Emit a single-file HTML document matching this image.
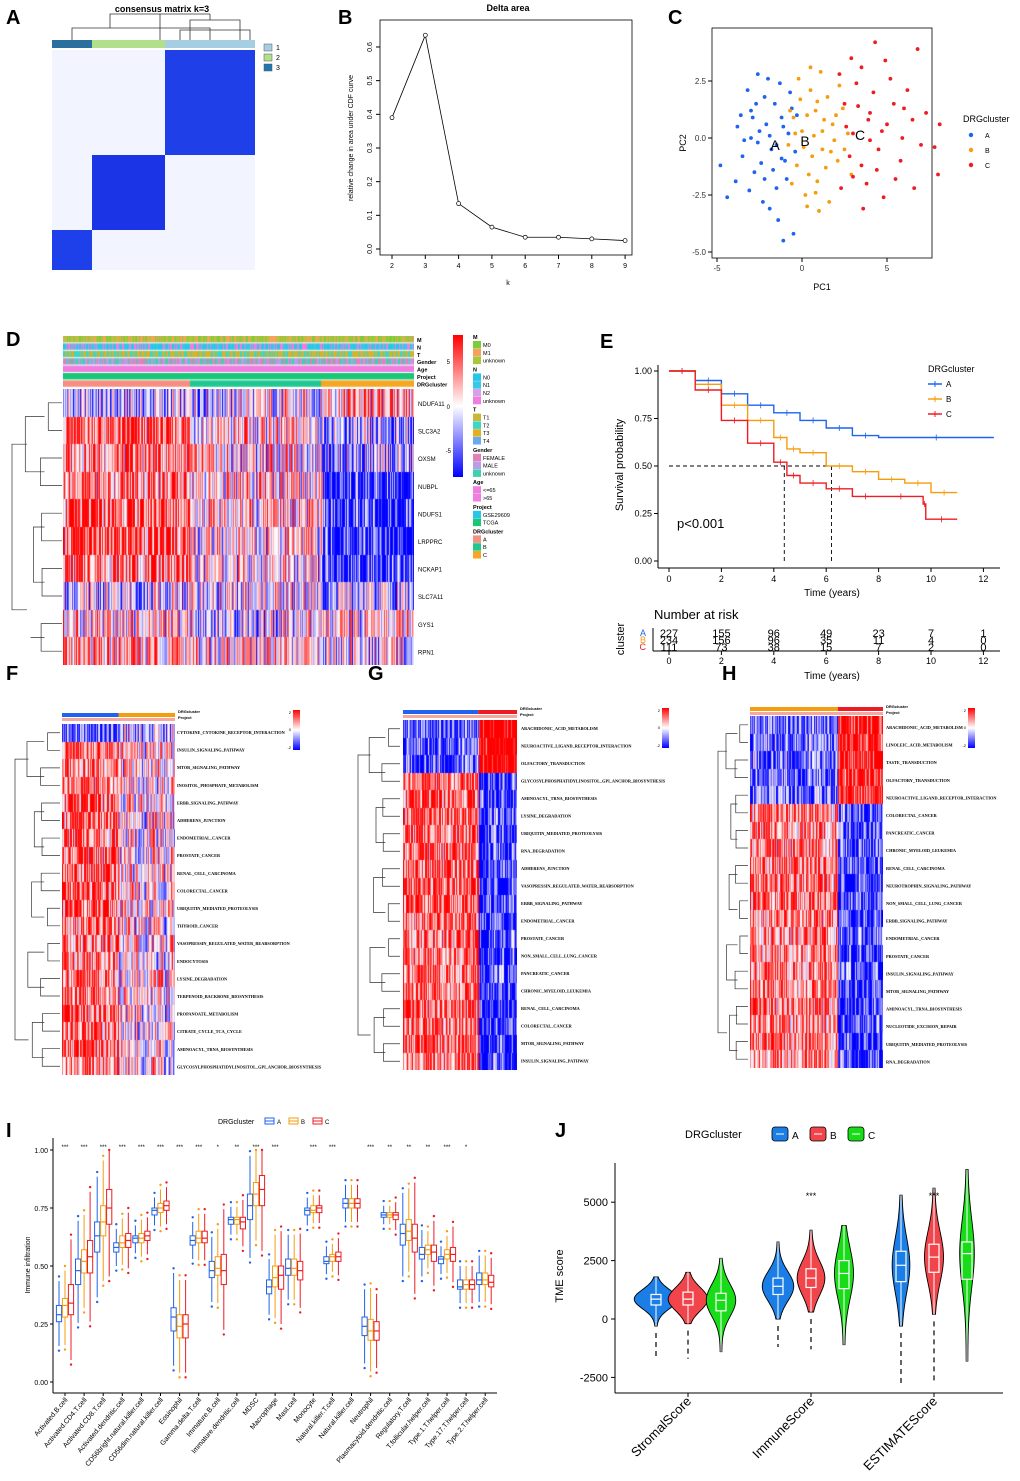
<!DOCTYPE html>
<html><head><meta charset="utf-8"><style>
body{margin:0;background:#fff;}
#wrap{position:relative;width:1020px;height:1481px;overflow:hidden;font-family:"Liberation Sans",sans-serif;}
canvas{position:absolute;}
svg{position:absolute;left:0;top:0;}
</style></head><body>
<div id="wrap">
<canvas id="hD" width="351" height="276" style="left:63px;top:389px"></canvas>
<canvas id="hF" width="113" height="351" style="left:62px;top:724px"></canvas>
<canvas id="hG" width="114" height="350" style="left:403px;top:720px"></canvas>
<canvas id="hH" width="133" height="352" style="left:750px;top:716px"></canvas>
<canvas id="aD" width="351" height="52" style="left:63px;top:336px"></canvas>
<svg id="s" width="1020" height="1481" xmlns="http://www.w3.org/2000/svg"></svg>
</div>
<script>
// ---- data ----
const deltaK=[2,3,4,5,6,7,8,9];
const deltaVals=[0.39,0.635,0.135,0.065,0.035,0.035,0.03,0.025];
const pcaA=[[-3,1.2],[-2.5,0.3],[-1.8,-0.5],[-2.2,1.8],[-3.5,-0.8],[-1.2,0.9],[-2.8,-1.5],[-1.5,-2.2],[-3.8,0.5],[-2,2.6],[-1,-1],[-2.6,-0.2],[-3.2,2.1],[-1.6,1.5],[-0.8,0.2],[-2.3,-2.8],[-1.4,-3.6],[-1.1,-4.5],[-0.5,-4.2],[-3.9,-1.9],[-4.4,-2.6],[-4.8,-1.2],[-2.9,0.9],[-1.9,0.1],[-0.6,1.3],[-1.3,2.4],[-2.4,-1.1],[-3.4,-0.1],[-0.9,-1.8],[-1.7,-1.4],[-2.1,0.6],[-2.7,1.5],[-0.4,-0.6],[-1.1,0.5],[-3.1,-2.3],[-1.5,-0.3],[-2.2,-1.8],[-0.7,2.0],[-3.6,1.0],[-1.9,-3.1],[-2.6,2.8],[-1.2,-0.9],[-3.0,0.0],[-0.3,1.0]];
const pcaB=[[0,0.3],[0.8,1.2],[1.2,-0.5],[-0.3,-1.2],[0.5,2.1],[1.8,0.6],[-0.5,0.9],[0.9,-1.9],[2.1,-1.0],[0.2,-2.5],[1.5,1.8],[-0.8,-0.3],[0.6,-0.8],[1.1,2.9],[2.4,1.3],[0.3,1.0],[1.6,-2.8],[-0.2,2.6],[0.7,0.1],[1.9,-0.1],[2.7,0.2],[0.4,-1.6],[1.3,0.8],[-0.6,-2.0],[1.0,-3.2],[2.2,2.3],[0.1,-0.4],[1.4,-1.3],[-0.1,1.7],[0.9,1.6],[2.9,-1.6],[0.5,3.1],[1.7,-0.6],[-0.4,0.2],[0.8,-2.4],[2.0,1.0],[1.2,0.3],[0.3,-3.0],[2.5,-0.5],[-0.7,1.2]];
const pcaC=[[3,0.2],[4,1.1],[3.5,-1.2],[5,0.6],[2.5,1.5],[4.5,-0.5],[6,1.3],[3.2,2.4],[5.5,-1.8],[7,-0.3],[2.8,-0.8],[4.2,2.0],[6.5,0.8],[3.8,-2.0],[5.2,2.6],[2.3,-2.2],[4.8,-2.6],[7.3,1.1],[8,-1.6],[6.8,3.9],[4.3,4.2],[3.5,3.1],[5.8,-1.0],[2.6,0.5],[4.0,-0.1],[3.3,1.4],[6.2,2.1],[4.7,0.3],[5.4,1.5],[3.6,-3.1],[7.8,-0.4],[2.2,2.8],[4.4,-1.4],[5.9,0.0],[3.0,-1.7],[6.6,-2.2],[4.9,3.4],[2.9,3.5],[8.1,0.6],[3.9,0.8]];
const kmTimeA=[0,1,2,3,4,5,6,7,8,12.4];
const kmSurvA=[1,0.95,0.88,0.82,0.78,0.74,0.70,0.66,0.65,0.65];
const kmTimeB=[0,1,2,3,4,4.5,5,6,7,8,9,10,11];
const kmSurvB=[1,0.93,0.82,0.74,0.65,0.59,0.57,0.50,0.47,0.43,0.41,0.36,0.36];
const kmTimeC=[0,1,2,3,4,4.5,5,6,7,8,9.7,9.8,11];
const kmSurvC=[1,0.90,0.74,0.62,0.52,0.45,0.41,0.38,0.34,0.34,0.30,0.22,0.22];
const riskTimes=[0,2,4,6,8,10,12];
const riskA=[227,155,96,49,23,7,1];
const riskB=[234,156,96,35,11,4,0];
const riskC=[111,73,38,15,7,2,0];
const cells=["Activated.B.cell","Activated.CD4.T.cell","Activated.CD8.T.cell","Activated.dendritic.cell","CD56bright.natural.killer.cell","CD56dim.natural.killer.cell","Eosinophil","Gamma.delta.T.cell","Immature.B.cell","Immature.dendritic.cell","MDSC","Macrophage","Mast.cell","Monocyte","Natural.killer.T.cell","Natural.killer.cell","Neutrophil","Plasmacytoid.dendritic.cell","Regulatory.T.cell","T.follicular.helper.cell","Type.1.T.helper.cell","Type.17.T.helper.cell","Type.2.T.helper.cell"];
const stars=["***","***","***","***","***","***","***","***","*","**","***","***","","***","***","","***","**","**","**","***","*",""];
const medA=[.29,.48,.63,.58,.62,.74,.28,.61,.48,.70,.76,.41,.49,.74,.52,.77,.24,.72,.64,.55,.53,.41,.44];
const medB=[.33,.52,.69,.60,.62,.75,.24,.62,.49,.70,.81,.45,.49,.74,.54,.77,.22,.72,.65,.57,.55,.42,.44];
const medC=[.34,.54,.75,.61,.63,.76,.25,.62,.48,.69,.83,.46,.48,.75,.54,.77,.22,.72,.62,.56,.55,.42,.43];
const q1A=[.26,.42,.56,.56,.60,.72,.22,.59,.45,.68,.70,.38,.46,.72,.51,.75,.20,.71,.59,.53,.51,.40,.42];
const q3A=[.33,.53,.69,.60,.63,.75,.32,.63,.52,.71,.81,.44,.53,.75,.54,.79,.28,.73,.68,.58,.54,.44,.47];
const q1B=[.28,.47,.63,.58,.60,.73,.19,.60,.46,.68,.76,.41,.46,.73,.52,.75,.18,.71,.61,.55,.53,.40,.42];
const q3B=[.36,.57,.76,.63,.64,.77,.29,.65,.54,.71,.86,.50,.53,.76,.55,.79,.27,.73,.70,.59,.57,.44,.47];
const q1C=[.29,.47,.68,.58,.61,.74,.19,.60,.42,.66,.76,.40,.44,.73,.52,.75,.18,.70,.56,.52,.52,.40,.41];
const q3C=[.42,.61,.83,.64,.65,.78,.29,.65,.55,.71,.89,.50,.52,.76,.56,.79,.26,.73,.68,.59,.58,.44,.46];
const tmeGroups=["StromalScore","ImmuneScore","ESTIMATEScore"];
const tmeMed=[[850,850,800],[1400,1750,1950],[2300,2650,2800]];
const tmeQ1=[[600,600,350],[1050,1350,1300],[1600,2000,1700]];
const tmeQ3=[[1050,1150,1100],[1750,2150,2500],[2900,3200,3300]];
const tmeMin=[[-300,-200,-1400],[0,300,-1100],[-300,200,-1800]];
const tmeMax=[[1800,2000,2600],[3300,3800,4000],[5300,5600,6400]];
const tmeLow=[[-1700,-1700,-1400],[-1200,-1300,-1100],[-2800,-2800,-1800]];
const tmeStars=["","***","***"];
const genesD=["NDUFA11","SLC3A2","OXSM","NUBPL","NDUFS1","LRPPRC","NCKAP1","SLC7A11","GYS1","RPN1"];
const meanD=[[-0.6,-0.2,0.6],[1.2,0.2,-1.0],[1.0,0.1,-0.8],[1.0,0.2,-1.8],[1.3,0.3,-1.8],[1.4,0.2,-1.8],[1.1,0.0,-1.8],[-0.4,-0.2,-0.6],[0.2,-0.3,0.0],[0.6,0.2,-0.2]];
const pathF=["CYTOKINE_CYTOKINE_RECEPTOR_INTERACTION","INSULIN_SIGNALING_PATHWAY","MTOR_SIGNALING_PATHWAY","INOSITOL_PHOSPHATE_METABOLISM","ERBB_SIGNALING_PATHWAY","ADHERENS_JUNCTION","ENDOMETRIAL_CANCER","PROSTATE_CANCER","RENAL_CELL_CARCINOMA","COLORECTAL_CANCER","UBIQUITIN_MEDIATED_PROTEOLYSIS","THYROID_CANCER","VASOPRESSIN_REGULATED_WATER_REABSORPTION","ENDOCYTOSIS","LYSINE_DEGRADATION","TERPENOID_BACKBONE_BIOSYNTHESIS","PROPANOATE_METABOLISM","CITRATE_CYCLE_TCA_CYCLE","AMINOACYL_TRNA_BIOSYNTHESIS","GLYCOSYLPHOSPHATIDYLINOSITOL_GPI_ANCHOR_BIOSYNTHESIS"];
const pathG=["ARACHIDONIC_ACID_METABOLISM","NEUROACTIVE_LIGAND_RECEPTOR_INTERACTION","OLFACTORY_TRANSDUCTION","GLYCOSYLPHOSPHATIDYLINOSITOL_GPI_ANCHOR_BIOSYNTHESIS","AMINOACYL_TRNA_BIOSYNTHESIS","LYSINE_DEGRADATION","UBIQUITIN_MEDIATED_PROTEOLYSIS","RNA_DEGRADATION","ADHERENS_JUNCTION","VASOPRESSIN_REGULATED_WATER_REABSORPTION","ERBB_SIGNALING_PATHWAY","ENDOMETRIAL_CANCER","PROSTATE_CANCER","NON_SMALL_CELL_LUNG_CANCER","PANCREATIC_CANCER","CHRONIC_MYELOID_LEUKEMIA","RENAL_CELL_CARCINOMA","COLORECTAL_CANCER","MTOR_SIGNALING_PATHWAY","INSULIN_SIGNALING_PATHWAY"];
const pathH=["ARACHIDONIC_ACID_METABOLISM","LINOLEIC_ACID_METABOLISM","TASTE_TRANSDUCTION","OLFACTORY_TRANSDUCTION","NEUROACTIVE_LIGAND_RECEPTOR_INTERACTION","COLORECTAL_CANCER","PANCREATIC_CANCER","CHRONIC_MYELOID_LEUKEMIA","RENAL_CELL_CARCINOMA","NEUROTROPHIN_SIGNALING_PATHWAY","NON_SMALL_CELL_LUNG_CANCER","ERBB_SIGNALING_PATHWAY","ENDOMETRIAL_CANCER","PROSTATE_CANCER","INSULIN_SIGNALING_PATHWAY","MTOR_SIGNALING_PATHWAY","AMINOACYL_TRNA_BIOSYNTHESIS","NUCLEOTIDE_EXCISION_REPAIR","UBIQUITIN_MEDIATED_PROTEOLYSIS","RNA_DEGRADATION"];

// ---- helpers ----
const S=document.getElementById('s');const NS='http://www.w3.org/2000/svg';
function el(tag,at,txt){const e=document.createElementNS(NS,tag);for(const k in at)e.setAttribute(k,at[k]);if(txt!==undefined)e.textContent=txt;S.appendChild(e);return e;}
function tx(x,y,t,sz,extra){const a=Object.assign({x:x,y:y,'font-size':sz,'font-family':'Liberation Sans, sans-serif',fill:'#000'},extra||{});const e=el('text',a,t);return e;}
function hs(i,j){let x=Math.sin(i*12.9898+j*78.233)*43758.5453;return x-Math.floor(x);}
function col(v){v=Math.max(-2,Math.min(2,v))/2;if(v>0)return [255,Math.round(255*(1-v)),Math.round(255*(1-v))];return [Math.round(255*(1+v)),Math.round(255*(1+v)),255];}
function heat(id,means,breaks,noise){const c=document.getElementById(id),g=c.getContext('2d');const W=c.width,H=c.height,n=means.length;const img=g.createImageData(W,H);
 for(let x=0;x<W;x++){let gi=0;for(let b=0;b<breaks.length;b++)if(x/W>=breaks[b])gi=b+1;const ce=(hs(x,999)-0.5)*1.2;
  for(let r=0;r<n;r++){const v=means[r][gi]+ce+(hs(x,r+1)-0.5)*noise;const cc=col(v);const y0=Math.round(r*H/n),y1=Math.round((r+1)*H/n);
   for(let y=y0;y<y1;y++){const p=(y*W+x)*4;img.data[p]=cc[0];img.data[p+1]=cc[1];img.data[p+2]=cc[2];img.data[p+3]=255;}}}
 g.putImageData(img,0,0);}
function label(x,y,t){const e=tx(x,y,t,20,{'font-weight':'bold'});}
function dendro(x0,x1,y0,y1,n){
 const step=(y1-y0)/n;let d='';for(let i=0;i<n;i+=2){const ya=y0+step*(i+0.5),yb=y0+step*(Math.min(i+1,n-1)+0.5);const xx=x1-(x1-x0)*(0.25+0.2*hs(i,7));d+=`M${x1},${ya}H${xx}V${yb}H${x1}`;}
 for(let i=0;i<n;i+=4){const ya=y0+step*(i+1),yb=y0+step*(Math.min(i+3,n-1));const xx=x1-(x1-x0)*(0.55+0.2*hs(i,9));d+=`M${x1-(x1-x0)*0.35},${ya}H${xx}V${yb}H${x1-(x1-x0)*0.35}`;}
 d+=`M${x1-(x1-x0)*0.7},${y0+step*2}H${x0}V${y1-step*2}H${x1-(x1-x0)*0.7}`;
 const p=el('path',{d:d,stroke:'#333','stroke-width':0.7,fill:'none'});return p;}
const defs=el('defs',{});

// ===== A =====
label(6,24,'A');
tx(162,12,'consensus matrix k=3',9,{'font-weight':'bold','text-anchor':'middle'});
el('path',{d:'M72,40V28H210V40M110,28V14H210M160,14V40M210,14V20H240V40M240,20H190V40M180,40V30H250V40',stroke:'#333','stroke-width':0.8,fill:'none'});
el('rect',{x:52,y:40,width:40,height:8,fill:'#2b6f9e'});el('rect',{x:92,y:40,width:73,height:8,fill:'#b2df8a'});el('rect',{x:165,y:40,width:90,height:8,fill:'#a6cee3'});
el('rect',{x:52,y:50,width:203,height:220,fill:'#f2f5ff'});
el('rect',{x:165,y:50,width:90,height:105,fill:'#1f3fe8',});
el('rect',{x:92,y:155,width:73,height:75,fill:'#1b35e6',});
el('rect',{x:52,y:230,width:40,height:40,fill:'#1e40ea',});
[['#a6cee3','1'],['#b2df8a','2'],['#1f78b4','3']].forEach((c,i)=>{el('rect',{x:264,y:44+i*10,width:8,height:7,fill:c[0],stroke:'#555','stroke-width':0.5});tx(276,50+i*10,c[1],7);});

// ===== B =====
label(338,24,'B');
tx(508,11,'Delta area',9,{'font-weight':'bold','text-anchor':'middle'});
el('rect',{x:380,y:20,width:252,height:235,fill:'none',stroke:'#000','stroke-width':0.8});
const bx=k=>392+(k-2)*33.3, by=v=>249-v*336.7;
[0,0.1,0.2,0.3,0.4,0.5,0.6].forEach(v=>{el('line',{x1:376,x2:380,y1:by(v),y2:by(v),stroke:'#000'});tx(372,by(v),String(v===0?'0.0':v),7,{transform:`rotate(-90 372 ${by(v)})`,'text-anchor':'middle'});});
deltaK.forEach(k=>{el('line',{x1:bx(k),x2:bx(k),y1:255,y2:259,stroke:'#000'});tx(bx(k),268,String(k),7,{'text-anchor':'middle'});});
tx(353,138,'relative change in area under CDF curve',7,{transform:'rotate(-90 353 138)','text-anchor':'middle'});
tx(508,285,'k',7,{'text-anchor':'middle'});
el('polyline',{points:deltaK.map((k,i)=>bx(k)+','+by(deltaVals[i])).join(' '),fill:'none',stroke:'#000','stroke-width':0.8,});
deltaK.forEach((k,i)=>{const c=el('circle',{cx:bx(k),cy:by(deltaVals[i]),r:2,fill:'#fff',stroke:'#000','stroke-width':0.7});});

// ===== C =====
label(668,24,'C');
el('rect',{x:712,y:28,width:220,height:230,fill:'none',stroke:'#000','stroke-width':0.8});
const cx=v=>802+v*17, cy=v=>138-v*22.8;
[-5,0,5].forEach(v=>{el('line',{x1:cx(v),x2:cx(v),y1:258,y2:262,stroke:'#000'});tx(cx(v),271,String(v),8,{'text-anchor':'middle',fill:'#333'});});
[2.5,0,-2.5,-5].forEach(v=>{el('line',{x1:708,x2:712,y1:cy(v),y2:cy(v),stroke:'#000'});tx(706,cy(v)+3,v.toFixed(1),8,{'text-anchor':'end',fill:'#333'});});
tx(822,290,'PC1',9,{'text-anchor':'middle'});tx(686,143,'PC2',9,{transform:'rotate(-90 686 143)','text-anchor':'middle'});
[[pcaA,'#1f63ef'],[pcaB,'#f59d0f'],[pcaC,'#ed1c24']].forEach(([arr,c],gi)=>arr.forEach(p=>{const d=el('circle',{cx:cx(p[0]),cy:cy(p[1]),r:1.9,fill:c});}));
tx(775,150,'A',14,{'text-anchor':'middle'});tx(805,146,'B',14,{'text-anchor':'middle'});tx(860,140,'C',14,{'text-anchor':'middle'});
tx(963,122,'DRGcluster',9);
[['A','#1f63ef'],['B','#f59d0f'],['C','#ed1c24']].forEach((c,i)=>{el('circle',{cx:971,cy:135+i*15,r:2.2,fill:c[1]});tx(985,138+i*15,c[0],7);});

// ===== D =====
label(6,346,'D');
heat('hD',meanD,[0.36,0.74],3.2);
(function(){const c=document.getElementById('aD'),g=c.getContext('2d');const rows=[['#7ccd3c','#f5a35c','#a8c83a'],['#27c6e8','#35c8e8','#f07ee0'],['#c8b83a','#3ad6c8','#e0b020'],['#e57fb5','#b89de8','#40d0b0'],['#f07ee0','#f07ee0','#f07ee0'],['#27c6e8','#18c878','#18c878'],['#f59080','#20c890','#f5a623']];
 rows.forEach((r,ri)=>{for(let x=0;x<351;x++){let ci;if(ri<4)ci=Math.floor(hs(x,ri+40)*3);else if(ri===4)ci=0;else if(ri===5)ci=(x<127?1:(x<258?1:1));else ci=(x<127?0:(x<258?1:2));g.fillStyle=r[ci];g.fillRect(x,ri*7.4,1,6.4);}});})();
['M','N','T','Gender','Age','Project','DRGcluster'].forEach((t,i)=>tx(417,342+i*7.4,t,5.5,{'font-weight':'bold'}));
genesD.forEach((t,i)=>tx(418,406+i*27.6,t,6));
dendro(12,62,389,665,10);
const gradD=el('linearGradient',{id:'gD',x1:0,y1:0,x2:0,y2:1});
[['0','#ff0000'],['0.5','#ffffff'],['1','#0000ff']].forEach(s=>{const st=document.createElementNS(NS,'stop');st.setAttribute('offset',s[0]);st.setAttribute('stop-color',s[1]);gradD.appendChild(st);});
el('rect',{x:453,y:335,width:10,height:142,fill:'url(#gD)'});
tx(450,364,'5',6,{'text-anchor':'end'});tx(450,409,'0',6,{'text-anchor':'end'});tx(451,453,'-5',6,{'text-anchor':'end'});
const legD=[['M',[['M0','#7ccd3c'],['M1','#f5a35c'],['unknown','#a8c83a']]],['N',[['N0','#27c6e8'],['N1','#35c8e8'],['N2','#d8a0e8'],['unknown','#f07ee0']]],['T',[['T1','#c8b83a'],['T2','#3ad6c8'],['T3','#e0b020'],['T4','#6aaaf0']]],['Gender',[['FEMALE','#e57fb5'],['MALE','#b89de8'],['unknown','#40d0b0']]],['Age',[['<=65','#f07ee0'],['>65','#f07ee0']]],['Project',[['GSE29609','#27c6e8'],['TCGA','#18c878']]],['DRGcluster',[['A','#f59080'],['B','#20c890'],['C','#f5a623']]]];
let ly=339;legD.forEach(([h,items])=>{tx(473,ly,h,5.5,{'font-weight':'bold'});ly+=2;items.forEach(it=>{el('rect',{x:473,y:ly,width:8,height:7.5,fill:it[1]});tx(483,ly+6,it[0],5.5);ly+=7.8;});ly+=7;});

// ===== E =====
label(600,348,'E');
const ex=t=>669+t*26.2, ey=s=>561-s*190;
el('line',{x1:658,x2:658,y1:365,y2:568,stroke:'#000'});el('line',{x1:658,x2:1000,y1:568,y2:568,stroke:'#000'});
[0,0.25,0.5,0.75,1].forEach(v=>{el('line',{x1:654,x2:658,y1:ey(v),y2:ey(v),stroke:'#000'});tx(652,ey(v)+3,v.toFixed(2),9,{'text-anchor':'end'});});
riskTimes.forEach(t=>{el('line',{x1:ex(t),x2:ex(t),y1:568,y2:572,stroke:'#000'});tx(ex(t),582,String(t),9,{'text-anchor':'middle'});});
tx(832,596,'Time  (years)',10,{'text-anchor':'middle'});
tx(623,465,'Survival probability',11,{transform:'rotate(-90 623 465)','text-anchor':'middle'});
el('path',{d:`M${ex(0)},${ey(0.5)}H${ex(6.2)}M${ex(4.4)},${ey(0.5)}V${ey(0)}M${ex(6.2)},${ey(0.5)}V${ey(0)}`,stroke:'#000','stroke-dasharray':'4,3','stroke-width':0.9,fill:'none'});
[[kmTimeA,kmSurvA,'#1f63ef','a'],[kmTimeB,kmSurvB,'#f59d0f','b'],[kmTimeC,kmSurvC,'#ed1c24','c']].forEach(([T,Sv,c,n])=>{let d=`M${ex(T[0])},${ey(Sv[0])}`;for(let i=1;i<T.length;i++){d+=`H${ex(T[i])}V${ey(Sv[i])}`;}
 const p=el('path',{d:d,stroke:c,'stroke-width':1.4,fill:'none'});
 let tk='';for(let i=1;i<T.length;i++){const tt=(T[i-1]+T[i])/2;tk+=`M${ex(tt)},${ey(Sv[i-1])-3}v6`;}el('path',{d:tk,stroke:c,'stroke-width':0.8});});
tx(677,528,'p<0.001',13);
tx(928,372,'DRGcluster',9);
[['A','#1f63ef'],['B','#f59d0f'],['C','#ed1c24']].forEach((c,i)=>{el('line',{x1:928,x2:942,y1:384+i*15,y2:384+i*15,stroke:c[1],'stroke-width':1.5});el('line',{x1:935,x2:935,y1:381+i*15,y2:387+i*15,stroke:c[1]});tx(946,387+i*15,c[0],8);});
tx(654,619,'Number at risk',13);
el('line',{x1:653,x2:1000,y1:651,y2:651,stroke:'#000'});el('line',{x1:653,x2:653,y1:628,y2:651,stroke:'#000'});
riskTimes.forEach(t=>{el('line',{x1:ex(t),x2:ex(t),y1:651,y2:655,stroke:'#000'});tx(ex(t),664,String(t),9,{'text-anchor':'middle'});});
tx(832,679,'Time  (years)',10,{'text-anchor':'middle'});
tx(624,639,'cluster',11,{transform:'rotate(-90 624 639)','text-anchor':'middle'});
[[riskA,'A','#1f63ef'],[riskB,'B','#f59d0f'],[riskC,'C','#ed1c24']].forEach(([arr,n,c],i)=>{tx(646,636+i*7,n,9,{fill:c,'text-anchor':'end'});arr.forEach((v,j)=>tx(ex(riskTimes[j]),637+i*7,String(v),11,{'text-anchor':'middle'}));});

// ===== F,G,H =====
function gradBox(x,y){el('rect',{x:x,y:y,width:7,height:40,fill:'url(#gD)'});tx(x-2,y+4,'2',4,{'text-anchor':'end'});tx(x-2,y+21,'0',4,{'text-anchor':'end'});tx(x-2,y+39,'-2',4,{'text-anchor':'end'});}
function ann(x,y,w,breaks,cols){breaks.forEach((b,i)=>{const x0=x+w*b,x1=x+w*(i+1<breaks.length?breaks[i+1]:1);el('rect',{x:x0,y:y,width:x1-x0,height:4,fill:cols[i]});});el('rect',{x:x,y:y+5,width:w,height:3,fill:'#f4a8a0'});}
label(6,680,'F');
const meanF=pathF.map((p,i)=>i===0?[-1.4,-0.6]:[1.2,0.1]);heat('hF',meanF,[0.5],3);
ann(62,713,113,[0,0.5],['#1f63ef','#f59d0f']);tx(178,713,'DRGcluster',4,{'font-weight':'bold'});tx(178,719,'Project',4,{'font-weight':'bold'});
pathF.forEach((t,i)=>tx(177,734+i*17.6,t,4.3,{'font-family':'Liberation Serif, serif','font-weight':'bold'}));
dendro(15,60,724,1075,20);gradBox(293,710);
label(368,680,'G');
const meanG=pathG.map((p,i)=>i<3?[-1.4,2.5]:[1.2,-1.6]);heat('hG',meanG,[0.66],2.6);
ann(403,710,114,[0,0.66],['#1f63ef','#ed1c24']);tx(520,710,'DRGcluster',4,{'font-weight':'bold'});tx(520,716,'Project',4,{'font-weight':'bold'});
pathG.forEach((t,i)=>tx(521,730+i*17.5,t,4.3,{'font-family':'Liberation Serif, serif','font-weight':'bold'}));
dendro(358,400,720,1070,20);gradBox(662,708);
label(722,680,'H');
const meanH=pathH.map((p,i)=>i<5?[-1.2,1.8]:[1.0,-1.6]);heat('hH',meanH,[0.66],2.6);
ann(750,707,133,[0,0.66],['#f59d0f','#ed1c24']);tx(886,708,'DRGcluster',4,{'font-weight':'bold'});tx(886,714,'Project',4,{'font-weight':'bold'});
pathH.forEach((t,i)=>tx(886,729+i*17.6,t,4.3,{'font-family':'Liberation Serif, serif','font-weight':'bold'}));
dendro(718,748,716,1068,20);gradBox(968,708);

// ===== I =====
label(6,1137,'I');
const iy=v=>1382-v*232, ix=i=>65+i*19.1;
el('line',{x1:53,x2:53,y1:1138,y2:1393,stroke:'#000'});el('line',{x1:53,x2:497,y1:1393,y2:1393,stroke:'#000'});
[0,0.25,0.5,0.75,1].forEach(v=>{el('line',{x1:50,x2:53,y1:iy(v),y2:iy(v),stroke:'#000'});tx(48,iy(v)+3,v.toFixed(2),7,{'text-anchor':'end'});});
tx(30,1265,'Immune infiltration',7,{transform:'rotate(-90 30 1265)','text-anchor':'middle'});
tx(218,1124,'DRGcluster',7);
[['A','#1f63ef'],['B','#f59d0f'],['C','#ed1c24']].forEach((c,i)=>{const x=265+i*24;el('rect',{x:x,y:1118,width:9,height:6,fill:'none',stroke:c[1]});el('line',{x1:x,x2:x+9,y1:1121,y2:1121,stroke:c[1]});tx(x+12,1124,c[0],6);});
cells.forEach((c,i)=>{const x=ix(i);
 [[medA,q1A,q3A,'#1f63ef',-6],[medB,q1B,q3B,'#f59d0f',0],[medC,q1C,q3C,'#ed1c24',6]].forEach(([m,a,b,clr,off],k)=>{const xx=x+off,iq=b[i]-a[i];const lo=Math.max(0.02,a[i]-1.5*iq),hi=Math.min(1,b[i]+1.5*iq);
  el('line',{x1:xx,x2:xx,y1:iy(hi),y2:iy(lo),stroke:clr,'stroke-width':1});
  const r=el('rect',{x:xx-2.6,y:iy(b[i]),width:5.2,height:iy(a[i])-iy(b[i]),fill:'#fff',stroke:clr,'stroke-width':1});
  el('line',{x1:xx-2.6,x2:xx+2.6,y1:iy(m[i]),y2:iy(m[i]),stroke:clr,'stroke-width':1.2});
  [lo-0.02,hi+0.02].forEach(o=>el('circle',{cx:xx,cy:iy(Math.max(0,Math.min(1,o))),r:1.2,fill:clr}));});
 tx(x,1149,stars[i],6,{'text-anchor':'middle'});
 el('line',{x1:x,x2:x,y1:1393,y2:1396,stroke:'#000'});
 tx(x+3,1400,c,7,{transform:`rotate(-50 ${x+3} 1400)`,'text-anchor':'end'});});

// ===== J =====
label(555,1137,'J');
const jy=v=>1319-v*0.02336;
el('line',{x1:615,x2:615,y1:1163,y2:1393,stroke:'#000'});el('line',{x1:615,x2:1003,y1:1393,y2:1393,stroke:'#000'});
[5000,2500,0,-2500].forEach(v=>{el('line',{x1:611,x2:615,y1:jy(v),y2:jy(v),stroke:'#000'});tx(608,jy(v)+4,String(v),11,{'text-anchor':'end'});});
tx(563,1276,'TME score',11,{transform:'rotate(-90 563 1276)','text-anchor':'middle'});
tx(685,1138,'DRGcluster',11);
const jc=['#1b7de6','#f1454b','#18dc18'];
['A','B','C'].forEach((n,i)=>{const x=772+i*38;el('rect',{x:x,y:1127,width:16,height:14,rx:3,fill:jc[i],stroke:'#000','stroke-width':0.8});el('line',{x1:x+4,x2:x+12,y1:1134,y2:1134,stroke:'#fff'});tx(x+20,1139,n,10);});
const jx=[[656,688,721],[778,811,844],[901,934,967]];
tmeGroups.forEach((g,gi)=>{const cxg=jx[gi][1];
 for(let k=0;k<3;k++){const x=jx[gi][k],med=tmeMed[gi][k],q1=tmeQ1[gi][k],q3=tmeQ3[gi][k],mn=tmeMin[gi][k],mx=tmeMax[gi][k];const sd=(q3-q1)/1.1;const wmax=Math.min(21,9500/sd);
  let L=[],R=[];const N=50;for(let s=0;s<=N;s++){const v=mx-(mx-mn)*s/N;const w=wmax*Math.exp(-0.5*Math.pow((v-med)/sd,2))+0.8;L.push((x-w)+','+jy(v));R.unshift((x+w)+','+jy(v));}
  const p=el('polygon',{points:L.concat(R).join(' '),fill:jc[k],stroke:'#000','stroke-width':0.9});
  el('line',{x1:x,x2:x,y1:jy(mx),y2:jy(q3),stroke:'#fff','stroke-width':1});
  el('line',{x1:x,x2:x,y1:jy(q1),y2:jy(mn),stroke:'#fff','stroke-width':1});
  el('rect',{x:x-5,y:jy(q3),width:10,height:jy(q1)-jy(q3),fill:'none',stroke:'#fff','stroke-width':1.2});
  el('line',{x1:x-5,x2:x+5,y1:jy(med),y2:jy(med),stroke:'#fff','stroke-width':1.2});
  if(tmeLow[gi][k]<mn-100)el('line',{x1:x,x2:x,y1:jy(mn-300),y2:jy(tmeLow[gi][k]),stroke:'#000','stroke-width':1.2,'stroke-dasharray':'5,4'});}
 if(tmeStars[gi])tx(cxg,1199,tmeStars[gi],9,{'text-anchor':'middle'});
 el('line',{x1:cxg,x2:cxg,y1:1393,y2:1397,stroke:'#000'});
 tx(cxg+4,1402,g,13,{transform:`rotate(-45 ${cxg+4} 1402)`,'text-anchor':'end'});});
</script>
</body></html>
